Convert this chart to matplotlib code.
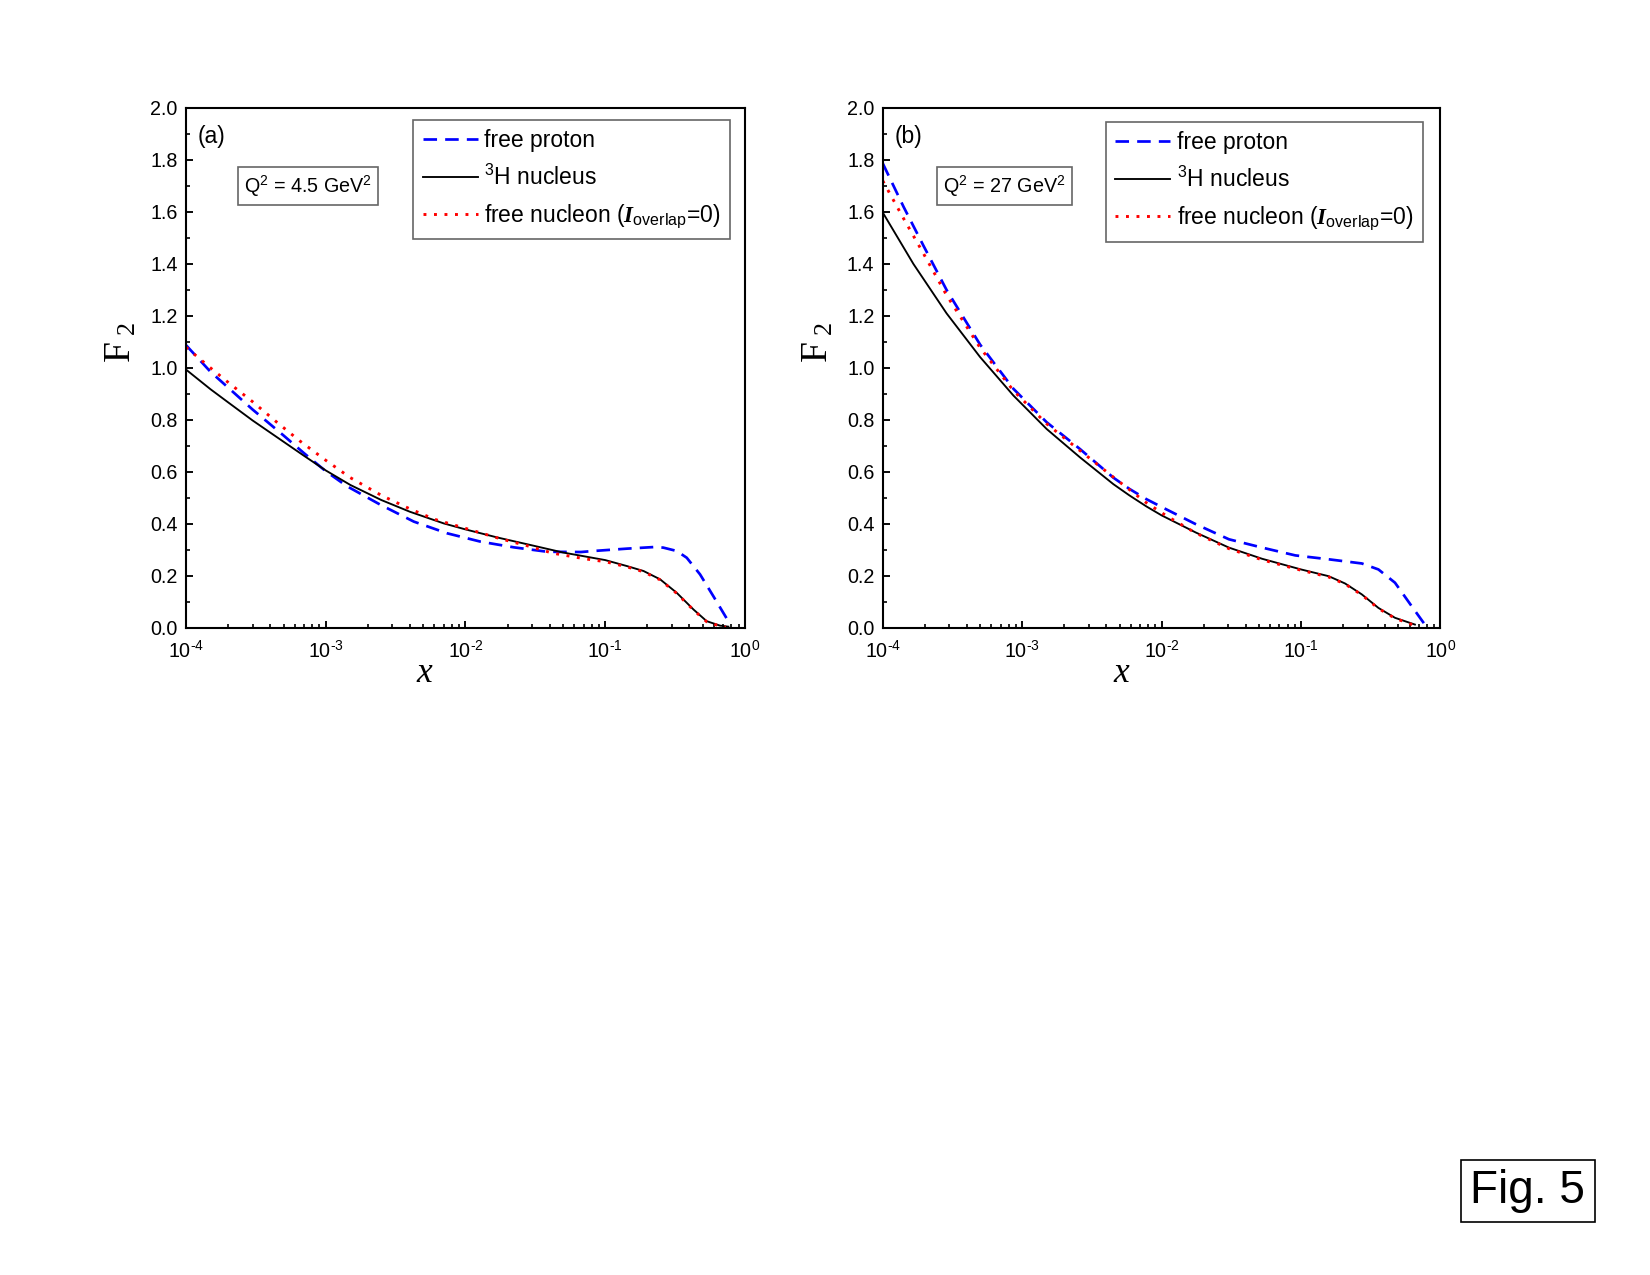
import matplotlib
matplotlib.use('Agg')
import matplotlib.pyplot as plt
from matplotlib.ticker import MultipleLocator, LogLocator, NullFormatter, FixedLocator

plt.rcParams['font.family'] = ['Liberation Sans', 'DejaVu Sans']
plt.rcParams['mathtext.fontset'] = 'custom'
plt.rcParams['mathtext.rm'] = 'Liberation Sans'
plt.rcParams['mathtext.it'] = 'Liberation Serif:italic'
plt.rcParams['mathtext.bf'] = 'Liberation Serif:bold:italic'

# ---- panel (a): Q^2 = 4.5 GeV^2 ----
x_a_black = [1e-4, 1.5e-4, 2e-4, 3e-4, 5e-4, 7e-4, 1e-3, 1.5e-3, 2.5e-3, 4e-3, 7e-3,
             1e-2, 1.69e-2, 2.92e-2, 5e-2, 7e-2, 0.1, 0.143, 0.188, 0.247, 0.325, 0.428,
             0.532, 0.662, 0.76]
f2_a_black = [0.994, 0.918, 0.868, 0.798, 0.716, 0.662, 0.606, 0.550, 0.492, 0.447, 0.402,
              0.379, 0.348, 0.319, 0.290, 0.276, 0.261, 0.238, 0.219, 0.187, 0.135, 0.071,
              0.026, 0.009, 0.005]

x_a_blue = [1e-4, 1.5e-4, 2e-4, 3e-4, 5e-4, 7e-4, 1e-3, 1.42e-3, 2.46e-3, 4.27e-3,
            7.4e-3, 1.28e-2, 2.22e-2, 3.85e-2, 6.7e-2, 8.26e-2, 0.143, 0.221, 0.26, 0.325,
            0.383, 0.477, 0.594, 0.70, 0.76]
f2_a_blue = [1.088, 0.985, 0.925, 0.840, 0.740, 0.672, 0.603, 0.545, 0.474, 0.409,
             0.364, 0.332, 0.310, 0.293, 0.292, 0.296, 0.305, 0.311, 0.309, 0.296,
             0.270, 0.206, 0.122, 0.058, 0.026]

x_a_red = [1e-4, 1.5e-4, 2e-4, 3e-4, 4.5e-4, 6.5e-4, 1e-3, 1.5e-3, 2.5e-3, 4e-3, 6e-3, 1e-2,
           1.78e-2, 2.77e-2, 4.18e-2, 6.3e-2, 7.8e-2, 0.1, 0.143, 0.188, 0.247, 0.325, 0.428,
           0.532, 0.662, 0.73]
f2_a_red = [1.08, 1.00, 0.945, 0.870, 0.790, 0.720, 0.645, 0.578, 0.510, 0.458, 0.418, 0.383,
            0.343, 0.316, 0.288, 0.271, 0.263, 0.255, 0.235, 0.216, 0.185, 0.133, 0.069,
            0.024, 0.007, 0.003]

# ---- panel (b): Q^2 = 27 GeV^2 ----
x_b_black = [1e-4, 1.66e-4, 2.87e-4, 4.99e-4, 8.65e-4, 1.5e-3, 2.6e-3, 4.51e-3, 5.87e-3, 7.8e-3,
             1e-2, 1.76e-2, 3.04e-2, 5.26e-2, 0.1, 0.158, 0.207, 0.273, 0.359, 0.472, 0.656]
f2_b_black = [1.598, 1.400, 1.210, 1.042, 0.894, 0.765, 0.656, 0.553, 0.510, 0.467,
              0.433, 0.367, 0.309, 0.266, 0.225, 0.199, 0.171, 0.129, 0.077, 0.039, 0.013]

x_b_blue = [1e-4, 1.41e-4, 1.96e-4, 2.87e-4, 4.99e-4, 8.65e-4, 1.5e-3, 2.6e-3, 4.51e-3, 5.87e-3,
            7.8e-3, 1.02e-2, 1.76e-2, 3.04e-2, 5.26e-2, 9.1e-2, 0.158, 0.273, 0.359, 0.472,
            0.621, 0.773]
f2_b_blue = [1.787, 1.620, 1.470, 1.300, 1.090, 0.920, 0.791, 0.688, 0.578, 0.535,
             0.495, 0.463, 0.399, 0.341, 0.309, 0.279, 0.264, 0.248, 0.225, 0.174,
             0.084, 0.013]

x_b_red = [1e-4, 1.41e-4, 1.96e-4, 2.87e-4, 4.99e-4, 8.65e-4, 1.5e-3, 2.6e-3, 4.51e-3, 7.7e-3,
           1.1e-2, 1.76e-2, 3.04e-2, 5.26e-2, 0.1, 0.158, 0.207, 0.273, 0.359, 0.472, 0.65]
f2_b_red = [1.720, 1.575, 1.440, 1.280, 1.078, 0.913, 0.785, 0.682, 0.580, 0.483,
            0.429, 0.365, 0.305, 0.262, 0.222, 0.196, 0.169, 0.127, 0.075, 0.037, 0.010]

labels = ['free proton', r'$\mathregular{^3}$H nucleus',
          r'free nucleon ($\mathbf{I}_{\mathregular{overlap}}$=0)']
panel_tags = ['(a)', '(b)']
q2_texts = [r'Q$\mathregular{^2}$ = 4.5 GeV$\mathregular{^2}$', r'Q$\mathregular{^2}$ = 27 GeV$\mathregular{^2}$']
xticks = [1e-4, 1e-3, 1e-2, 1e-1, 1e0]
xticklabels = [r'$10^{\text{-4}}$', r'$10^{\text{-3}}$', r'$10^{\text{-2}}$',
               r'$10^{\text{-1}}$', r'$10^{\text{0}}$']

panels = [
    (x_a_blue, f2_a_blue, x_a_black, f2_a_black, x_a_red, f2_a_red),
    (x_b_blue, f2_b_blue, x_b_black, f2_b_black, x_b_red, f2_b_red),
]

fig = plt.figure(figsize=(11, 8.5), dpi=150)
axes_pos = [[0.1127, 0.5075, 0.3388, 0.4078], [0.535, 0.5075, 0.338, 0.4078]]
leg_anchor = [(0.973, 0.977), (0.968, 0.973)]

for k, (xbl, ybl, xbk, ybk, xr, yr) in enumerate(panels):
    ax = fig.add_axes(axes_pos[k])
    ax.plot(xbl, ybl, color='#0000ff', lw=1.3, linestyle=(0, (5, 3)), label=labels[0])
    ax.plot(xbk, ybk, color='black', lw=0.9, label=labels[1])
    ax.plot(xr, yr, color='#ff0000', lw=1.4, linestyle=(0, (1, 2.6)), label=labels[2])
    ax.set_xscale('log')
    ax.set_xlim(1e-4, 1)
    ax.set_ylim(0, 2.0)
    ax.xaxis.set_major_locator(FixedLocator(xticks))
    ax.set_xticklabels(xticklabels, fontsize=9.5)
    ax.xaxis.set_minor_locator(LogLocator(base=10, subs=range(2, 10), numticks=20))
    ax.xaxis.set_minor_formatter(NullFormatter())
    ax.yaxis.set_major_locator(MultipleLocator(0.2))
    ax.yaxis.set_minor_locator(MultipleLocator(0.1))
    ax.yaxis.set_major_formatter(plt.FormatStrFormatter('%.1f'))
    ax.tick_params(which='both', direction='in', top=False, right=False)
    ax.tick_params(axis='y', labelsize=9.5)
    ax.tick_params(which='major', length=3.5, width=0.9, pad=4)
    ax.tick_params(which='minor', length=2, width=0.8)
    ax.tick_params(axis='x', pad=6)
    for s in ax.spines.values():
        s.set_linewidth(1.0)

    ax.set_ylabel(r'$\mathregular{F_{\ 2}}$', fontfamily='Liberation Serif', fontsize=18)
    ax.yaxis.set_label_coords(-0.085, 0.55)
    ax.set_xlabel('x', fontfamily='Liberation Serif', style='italic', fontsize=17)
    ax.xaxis.set_label_coords(0.427, -0.055)

    ax.text(0.0215, 0.946, panel_tags[k], transform=ax.transAxes, fontsize=11, va='center', ha='left')
    ax.text(0.218, 0.85, q2_texts[k], transform=ax.transAxes, fontsize=9.5, va='center', ha='center',
            bbox=dict(boxstyle='square,pad=0.3', facecolor='white', edgecolor='#666666', linewidth=0.8))

    leg = ax.legend(loc='upper right', bbox_to_anchor=leg_anchor[k], borderaxespad=0,
                    fontsize=11, handlelength=2.4, handletextpad=0.3,
                    labelspacing=0.55, fancybox=False, framealpha=1, edgecolor='#666666',
                    borderpad=0.4)
    leg.get_frame().set_linewidth(0.8)

fig.text(0.926, 0.066, 'Fig. 5', fontsize=22, ha='center', va='center',
         bbox=dict(boxstyle='square,pad=0.2', facecolor='white', edgecolor='black', linewidth=0.8))

fig.savefig('out.png', dpi=150)
